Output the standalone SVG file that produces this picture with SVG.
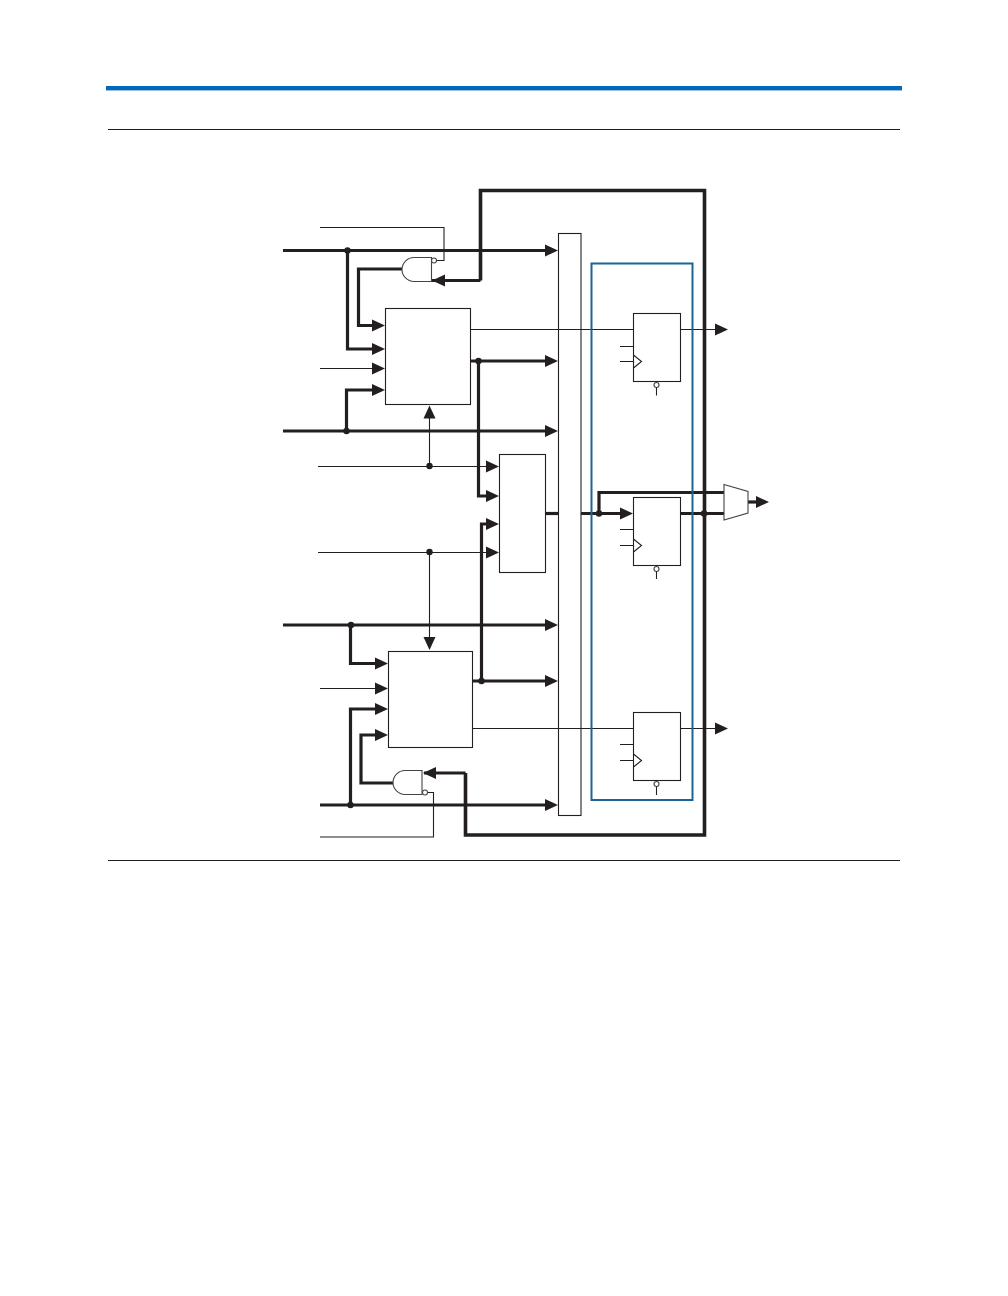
<svg xmlns="http://www.w3.org/2000/svg" width="1008" height="1296" viewBox="0 0 1008 1296">
<style>
.thin{fill:none;stroke:#231f20;stroke-width:1.1}
.thick{fill:none;stroke:#231f20;stroke-width:3.2}
.loop{fill:none;stroke:#231f20;stroke-width:3.6}
.box{fill:#fff;stroke:#231f20;stroke-width:1.1}
.gate{fill:#fff;stroke:#444;stroke-width:1.1}
.dot{fill:#231f20}
.ah{fill:#231f20;stroke:none}
</style>
<defs>
<polygon id="a" class="ah" points="0,0 -13,-6 -13,6"/>
<circle id="d" class="dot" r="3.2"/>
</defs>
<rect id="top-bar" x="106" y="86" width="796" height="4.4" fill="#0067b9"/>
<g id="rules">
<line x1="108" y1="129.5" x2="900" y2="129.5" class="thin"/>
<line x1="108" y1="860.5" x2="900" y2="860.5" class="thin"/>
</g>
<g id="bus"><rect x="558.5" y="233.5" width="22.5" height="582" class="box"/></g>
<g id="block-a"><rect x="385.5" y="308.5" width="85" height="96" class="box"/></g>
<g id="block-b"><rect x="388.5" y="651.5" width="84" height="96" class="box"/></g>
<g id="block-c"><rect x="499.5" y="454.5" width="46" height="118" class="box"/></g>
<g id="connectors">
<path class="thin" d="M471 329.500H633"/>
<path class="thin" d="M473 728.500H633"/>
<path class="thick" d="M432 280.500H480.500"/>
<path class="loop" d="M480.500 280.500V190.500H704.500V835H465.500V773"/>
<path class="thick" d="M465.500 773H424"/>
<path class="thin" d="M320 227.500H444V260.500H437"/>
<path class="thick" d="M283 250.500H546"/>
<path class="thick" d="M347.500 250.500V349H373"/>
<path class="thick" d="M402 269H358.500V325.500H373"/>
<path class="thin" d="M320 368.500H373"/>
<path class="thick" d="M283 431H546"/>
<path class="thick" d="M346.500 431V390H373"/>
<path class="thin" d="M429.500 466.500V418"/>
<path class="thin" d="M318 466.500H487"/>
<path class="thin" d="M318 552.500H487"/>
<path class="thin" d="M429.500 552.500V638"/>
<path class="thick" d="M471 361H546"/>
<path class="thick" d="M478.500 361V496H487"/>
<path class="thick" d="M473 681H546"/>
<path class="thick" d="M481.500 681V524H487"/>
<path class="thick" d="M283 625H546"/>
<path class="thick" d="M350.500 625V663.500H376"/>
<path class="thin" d="M320 688.500H376"/>
<path class="thick" d="M320 805H546"/>
<path class="thick" d="M350.500 805V709H376"/>
<path class="thick" d="M393 783H361V735H376"/>
<path class="thin" d="M428 792.500H433.500V837H320"/>
<path class="thin" d="M681 329.500H716"/>
<path class="thin" d="M681 728.500H716"/>
<path class="thick" d="M545.500 513.500H558"/>
<path class="thick" d="M581 513.500H622"/>
<path class="thick" d="M599 513.500V492.500H724"/>
<path class="thick" d="M681 513.500H724"/>
<path class="thick" d="M748 502H757"/>
<g class="arrows">
<use href="#a" x="558" y="250.500"/><use href="#a" x="558" y="361"/><use href="#a" x="558" y="431"/><use href="#a" x="558" y="625"/><use href="#a" x="558" y="681"/><use href="#a" x="558" y="805"/>
<use href="#a" x="385" y="325.500"/><use href="#a" x="385" y="349"/><use href="#a" x="385" y="368.500"/><use href="#a" x="385" y="390"/>
<use href="#a" x="388" y="663.500"/><use href="#a" x="388" y="688.500"/><use href="#a" x="388" y="709"/><use href="#a" x="388" y="735"/>
<use href="#a" x="499" y="466.500"/><use href="#a" x="499" y="496"/><use href="#a" x="499" y="524"/><use href="#a" x="499" y="552.500"/>
<use href="#a" x="633" y="513.500"/><use href="#a" x="728" y="329.500"/><use href="#a" x="728" y="728.500"/><use href="#a" x="769" y="502"/>
<polygon class="ah" points="432,280.500 445,274.500 445,286.500"/>
<polygon class="ah" points="423,773 436,767 436,779"/>
<polygon class="ah" points="429.500,405.500 423.500,418.500 435.500,418.500"/>
<polygon class="ah" points="429.500,650 423.500,637 435.500,637"/>
</g>
<g class="dots">
<use href="#d" x="347.500" y="250.500"/><use href="#d" x="346.500" y="431"/><use href="#d" x="478.500" y="361"/><use href="#d" x="429.500" y="466"/><use href="#d" x="429.500" y="552"/><use href="#d" x="351" y="625"/><use href="#d" x="481.500" y="681"/><use href="#d" x="350.500" y="805"/><use href="#d" x="599" y="513.500"/><use href="#d" x="704" y="513.500"/>
</g>
</g>
<g id="register-bank"><rect x="591.500" y="263.500" width="101" height="536.500" fill="none" stroke="#1a6496" stroke-width="2"/></g>
<g id="gate-top">
<path class="gate" d="M431.500 257.500H414A12 12 0 0 0 414 281.500H431.500Z"/>
<circle cx="434" cy="260.500" r="2.500" class="gate"/>
</g>
<g id="gate-bottom">
<path class="gate" d="M422 770.500H405A12 12 0 0 0 405 794.500H422Z"/>
<circle cx="425" cy="792.500" r="2.500" class="gate"/>
</g>
<g id="mux"><polygon class="gate" points="724,484.500 748,491.500 748,513 724,520"/></g>
<g id="ff-top">
<rect x="633.500" y="313.500" width="47" height="68" class="box"/>
<path class="thin" d="M620 346.500H633M620 361.500H633M633.500 355L641.500 361.500L633.500 368"/>
<circle cx="656.500" cy="385" r="2.500" class="gate"/><line x1="656.500" y1="387.500" x2="656.500" y2="395.500" class="thin"/>
</g>
<g id="ff-middle">
<rect x="633.500" y="497.500" width="47" height="68" class="box"/>
<path class="thin" d="M620 529.500H633M620 545.500H633M633.500 539L641.500 545.500L633.500 552"/>
<circle cx="656.500" cy="569" r="2.500" class="gate"/><line x1="656.500" y1="571.500" x2="656.500" y2="579" class="thin"/>
</g>
<g id="ff-bottom">
<rect x="633.500" y="712.500" width="47" height="68" class="box"/>
<path class="thin" d="M620 744.500H633M620 760.500H633M633.500 754L641.500 760.500L633.500 767"/>
<circle cx="656.500" cy="784" r="2.500" class="gate"/><line x1="656.500" y1="786.500" x2="656.500" y2="795" class="thin"/>
</g>
</svg>
